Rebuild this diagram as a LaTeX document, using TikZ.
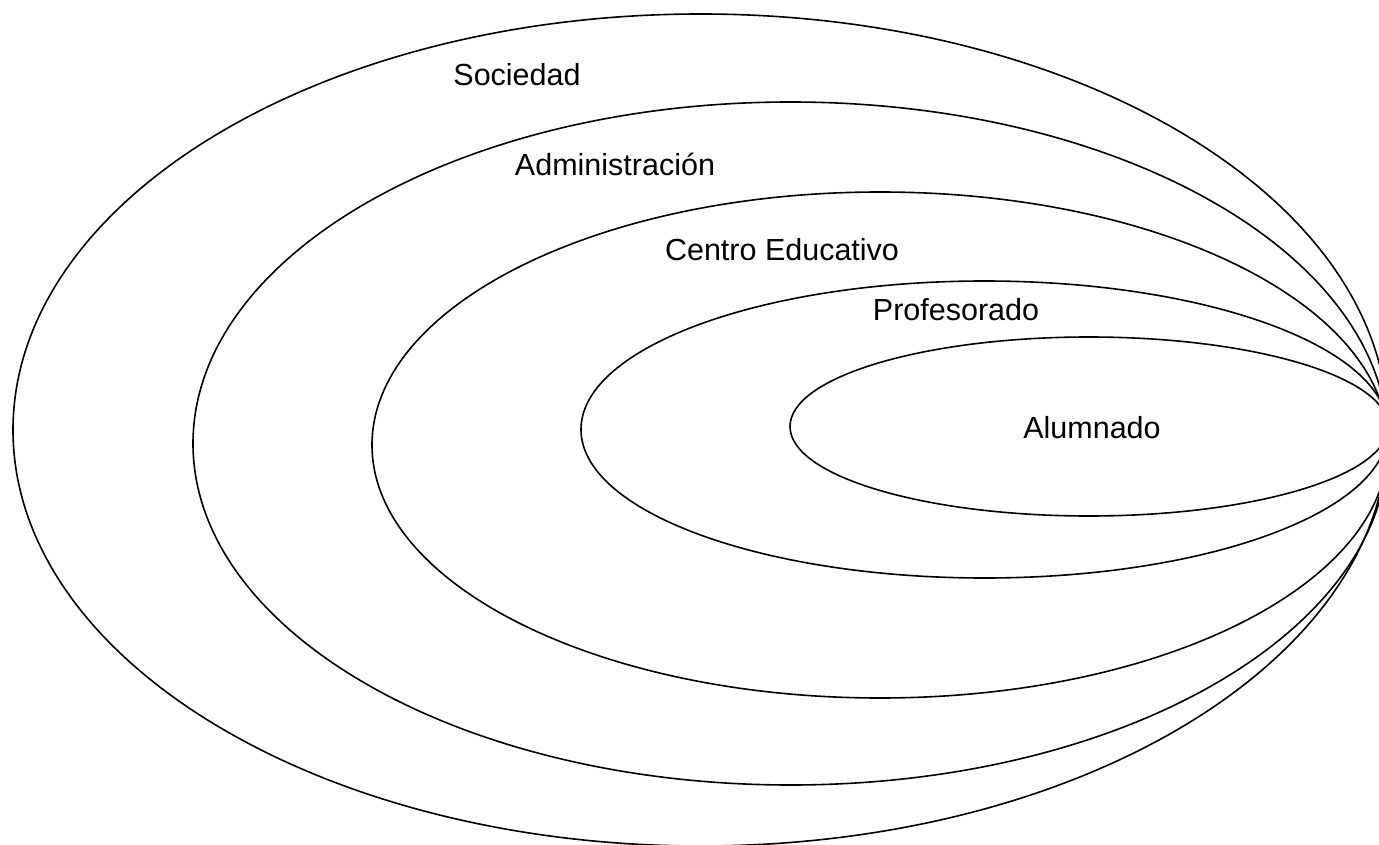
\documentclass[tikz,border=0pt]{standalone}
\usepackage{fontspec}
\setmainfont{Liberation Sans}
\begin{document}
\begin{tikzpicture}[x=1pt,y=-1pt,
  ring/.style={draw=black,line width=1.6pt},
  lbl/.style={font=\fontsize{30.5}{36}\selectfont,inner sep=0pt}]
\useasboundingbox (0,0) rectangle (1379,845);
\clip (0,0) rectangle (1379,845);
\draw[ring] (700.5,430) ellipse [x radius=687.5, y radius=416];
\draw[ring] (790.5,443.5) ellipse [x radius=597.5, y radius=341.5];
\draw[ring] (880,445) ellipse [x radius=508, y radius=253];
\draw[ring] (984.5,429.5) ellipse [x radius=403.5, y radius=148.5];
\draw[ring] (1089,426.5) ellipse [x radius=299, y radius=89.5];
\node[lbl] (soc) at (517,75) {Sociedad};
\node[lbl] (adm) at (615,164) {Administración};
\node[lbl] (cen) at (782,250) {Centro Educativo};
\node[lbl] (pro) at (956,310) {Profesorado};
\node[lbl] (alu) at (1092,428) {Alumnado};
\end{tikzpicture}
\end{document}
